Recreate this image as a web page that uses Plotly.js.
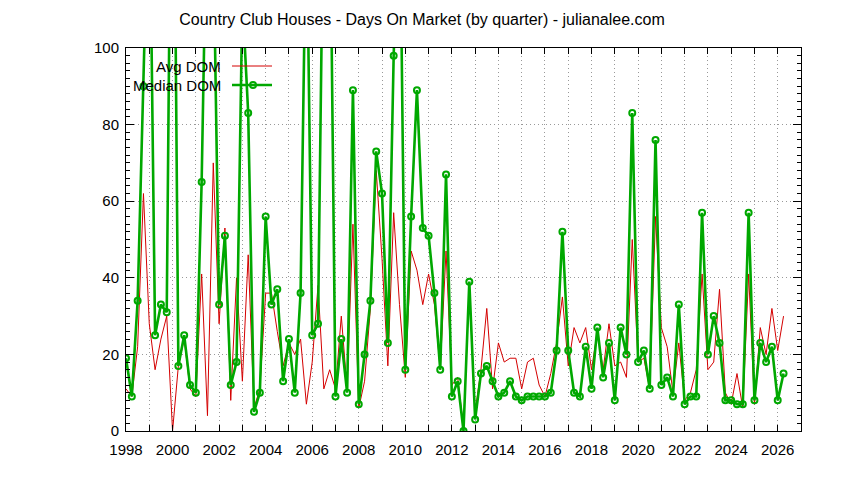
<!DOCTYPE html>
<html>
<head>
<meta charset="utf-8">
<script src="https://cdn.plot.ly/plotly-3.0.1.min.js"></script>
<style>html,body{margin:0;padding:0;background:#fff;}#chart{width:844px;height:480px;}</style>
</head>
<body>
<div id="chart"></div>
<script>
// Quarterly data starting 1998 Q1
const startYear = 1998;
const avgDOM = [
  11, 9, 22, 62, 28, 16, 24, 30, 0, 17,
  24, 11, 9, 41, 4, 70, 28, 53, 8, 40,
  13, 46, 6, 11, 36, 36, 26, 17, 23, 20,
  24, 7, 18, 38, 11, 16, 11, 30, 11, 54,
  6, 13, 32, 68, 45, 17, 57, 33, 14, 47,
  42, 33, 41, 33, 16, 47, 12, 14, 1, 38,
  5, 16, 32, 11, 23, 18, 19, 19, 11, 18,
  19, 12, 9, 15, 23, 35, 17, 27, 23, 27,
  16, 26, 16, 28, 17, 18, 14, 50, 18, 19,
  11, 56, 27, 22, 10, 23, 8, 10, 16, 41,
  16, 18, 37, 10, 7, 15, 6, 41, 7, 27,
  20, 32, 21, 30
];
const medianDOM = [
  19, 9, 34, 90, 150, 25, 33, 31, 200, 17,
  25, 12, 10, 65, 150, 130, 33, 51, 12, 18,
  113, 83, 5, 10, 56, 33, 37, 13, 24, 10,
  36, 140, 25, 28, 150, 150, 9, 24, 10, 89,
  7, 20, 34, 73, 62, 23, 98, 150, 16, 56,
  89, 53, 51, 36, 16, 67, 9, 13, 0, 39,
  3, 15, 17, 13, 9, 10, 13, 9, 8, 9,
  9, 9, 9, 10, 21, 52, 21, 10, 9, 22,
  11, 27, 14, 23, 8, 27, 20, 83, 18, 21,
  11, 76, 12, 14, 9, 33, 7, 9, 9, 57,
  20, 30, 23, 8, 8, 7, 7, 57, 8, 23,
  18, 22, 8, 15
];
const quarterTimes = avgDOM.map((_, i) => startYear + i / 4);
const tickYears = [];
const tickLabels = [];
for (let y = 1998; y <= 2027; y++) { tickYears.push(y); tickLabels.push(y % 2 === 0 ? String(y) : ''); }
const seriesNames = ['Avg DOM', 'Median DOM'];
const chartTitle = 'Country Club Houses - Days On Market (by quarter) - julianalee.com';

const RED = '#d40000';
const GREEN = '#00a800';
const FONT = 'Liberation Sans, Arial, sans-serif';
const GRIDDASH = '1px,3px';

const traces = [
  {x: quarterTimes, y: avgDOM, type: 'scatter', mode: 'lines', name: seriesNames[0],
   line: {color: RED, width: 1}, showlegend: false},
  {x: quarterTimes, y: medianDOM, type: 'scatter', mode: 'lines+markers', name: seriesNames[1],
   line: {color: GREEN, width: 2.6},
   marker: {symbol: 'circle-open', size: 6, color: GREEN, line: {color: GREEN, width: 2}},
   showlegend: false, cliponaxis: true}
];

// legend geometry (paper coords)
const L = 126, R = 801, T = 48, B = 431;
const px = v => (v - L) / (R - L);
const py = v => (B - v) / (B - T);

const layout = {
  width: 844, height: 480,
  margin: {l: 126, r: 43, t: 48, b: 49},
  paper_bgcolor: '#fff', plot_bgcolor: '#fff',
  font: {family: FONT, size: 15, color: '#000'},
  title: {text: chartTitle, font: {family: FONT, size: 16, color: '#000'},
          x: 0.5, xanchor: 'center', y: 1 - 19/480, yanchor: 'middle'},
  xaxis: {
    range: [1998, 2027], tickmode: 'array', tickvals: tickYears, ticktext: tickLabels,
    showgrid: true, gridcolor: '#999999', griddash: GRIDDASH, gridwidth: 1,
    ticks: 'inside', ticklen: 6, tickcolor: '#000', tickwidth: 1,
    showline: true, linecolor: '#000', linewidth: 1, mirror: 'allticks',
    zeroline: false, ticklabelstandoff: 5, tickfont: {family: FONT, size: 15, color: '#000'}
  },
  yaxis: {
    range: [0, 100], tickmode: 'linear', tick0: 0, dtick: 20,
    showgrid: true, gridcolor: '#999999', griddash: GRIDDASH, gridwidth: 1,
    ticks: 'inside', ticklen: 8, tickcolor: '#000', tickwidth: 1,
    minor: {dtick: 2, ticks: 'inside', ticklen: 4, tickcolor: '#000', showgrid: false},
    showline: true, linecolor: '#000', linewidth: 1, mirror: 'allticks',
    zeroline: false, ticklabelstandoff: 3, tickfont: {family: FONT, size: 15, color: '#000'}
  },
  showlegend: false,
  shapes: [
    {type: 'line', xref: 'paper', yref: 'paper', x0: px(232), x1: px(272), y0: py(66), y1: py(66),
     line: {color: RED, width: 1}},
    {type: 'line', xref: 'paper', yref: 'paper', x0: px(232), x1: px(272), y0: py(85), y1: py(85),
     line: {color: GREEN, width: 2.6}},
    {type: 'circle', xref: 'paper', yref: 'paper', x0: px(250), x1: px(256), y0: py(88), y1: py(82),
     line: {color: GREEN, width: 2}, fillcolor: 'rgba(255,255,255,0)'}
  ],
  annotations: [
    {xref: 'paper', yref: 'paper', x: px(223), y: py(66), xanchor: 'right', yanchor: 'middle',
     text: seriesNames[0], showarrow: false, font: {family: FONT, size: 15, color: '#000'}},
    {xref: 'paper', yref: 'paper', x: px(223), y: py(85), xanchor: 'right', yanchor: 'middle',
     text: seriesNames[1], showarrow: false, font: {family: FONT, size: 15, color: '#000'}}
  ]
};

Plotly.newPlot('chart', traces, layout, {displayModeBar: false, staticPlot: true});
</script>
</body>
</html>
